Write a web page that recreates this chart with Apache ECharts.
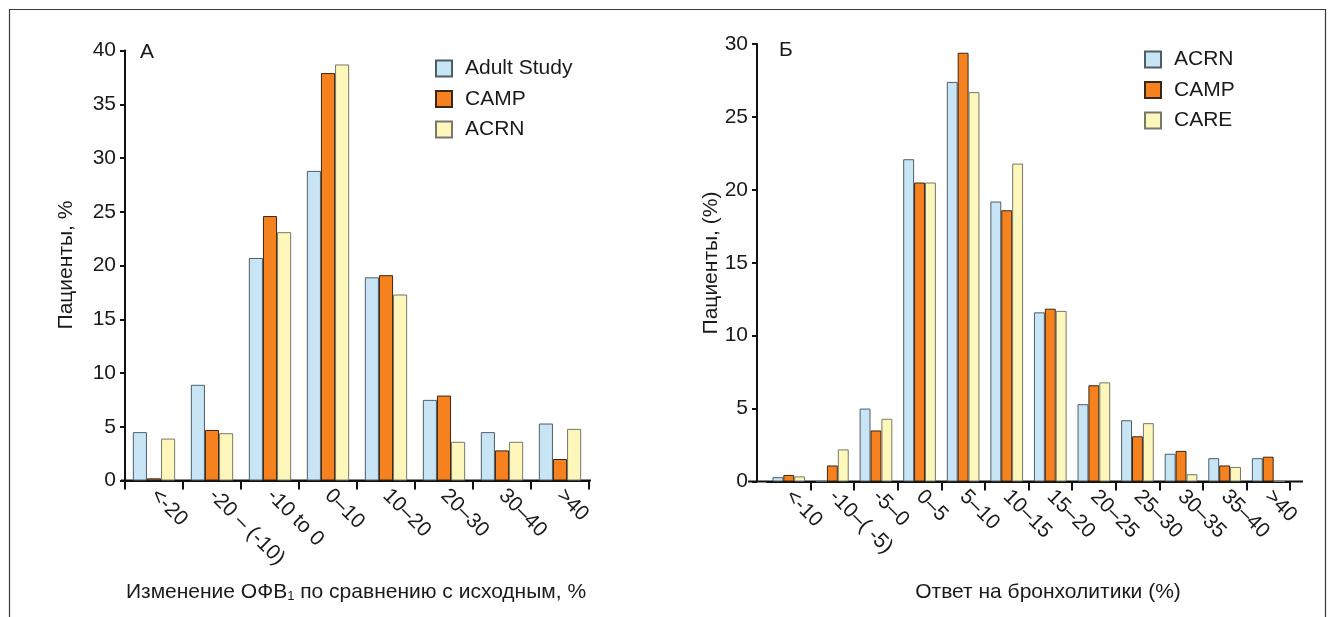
<!DOCTYPE html>
<html><head><meta charset="utf-8">
<script src="https://cdn.jsdelivr.net/npm/echarts@6/dist/echarts.min.js"></script>
<style>html,body{margin:0;padding:0;background:#fff;}#c{width:1333px;height:617px;}</style>
</head><body><div id="c"></div>
<script>
// Panel A
const catsA = ['<-20', '-20 – (-10)', '-10 to 0', '0–10', '10–20', '20–30', '30–40', '>40'];
const adultA = [4.5, 8.9, 20.7, 28.8, 18.9, 7.5, 4.5, 5.3];
const campA = [0.2, 4.7, 24.6, 37.9, 19.1, 7.9, 2.8, 2.0];
const acrnA = [3.9, 4.4, 23.1, 38.7, 17.3, 3.6, 3.6, 4.8];
// Panel B
const catsB = ['<-10', '-10–( -5)', '-5–0', '0–5', '5–10', '10–15', '15–20', '20–25', '25–30', '30–35', '35–40', '>40'];
const acrnB = [0.3, 0, 5.0, 22.1, 27.4, 19.2, 11.6, 5.3, 4.2, 1.9, 1.6, 1.6];
const campB = [0.45, 1.1, 3.5, 20.5, 29.4, 18.6, 11.85, 6.6, 3.1, 2.1, 1.1, 1.7];
const careB = [0.35, 2.2, 4.3, 20.5, 26.7, 21.8, 11.7, 6.8, 4.0, 0.5, 1.0, 0];

const FONT = 'Liberation Sans, Arial, sans-serif';
const TXT = '#1a1a1a';
const FS = 21;
const BLUE = '#c8e5f5', ORANGE = '#f5821f', YELLOW = '#fdf7bc';
const BBLUE = '#4e5e66', BORANGE = '#3a2616', BYELLOW = '#77776a';

const chart = echarts.init(document.getElementById('c'), null, {renderer: 'canvas'});

function xAx(grid, data, hideFirst) {
  return {
    type: 'category', gridIndex: grid, data: data,
    axisLine: {show: true, lineStyle: {color: '#111', width: 2}},
    axisTick: {show: true, length: 9, lineStyle: {color: '#111', width: 2},
      interval: hideFirst ? function (i) { return i !== 0; } : 0},
    axisLabel: {interval: 0, rotate: -45, margin: 12, fontFamily: FONT, fontSize: FS, color: TXT},
    splitLine: {show: false}
  };
}
function yAx(grid, max, offset) {
  return {
    type: 'value', gridIndex: grid, min: 0, max: max, interval: 5, offset: offset,
    axisLine: {show: true, lineStyle: {color: '#111', width: 2}},
    axisTick: {show: true, length: 5, lineStyle: {color: '#111', width: 2}},
    axisLabel: {margin: 9, fontFamily: FONT, fontSize: FS, color: TXT},
    splitLine: {show: false}
  };
}
function bar(name, data, xi, color, border) {
  return {
    name: name, type: 'bar', xAxisIndex: xi, yAxisIndex: xi, data: data,
    barGap: '0%', barCategoryGap: xi === 0 ? '27%' : '25%',
    itemStyle: {color: color, borderColor: border, borderWidth: 1},
    emphasis: {disabled: true}, animation: false
  };
}
const legendCommon = {
  orient: 'vertical', icon: 'rect', itemWidth: 16, itemHeight: 16, itemGap: 9.5,
  selectedMode: false, padding: 0,
  textStyle: {fontFamily: FONT, fontSize: FS, color: TXT, lineHeight: 20, padding: [0, 0, 0, 8]},
  formatter: function (n) { return n.replace('\u2009B', ''); }
};

chart.setOption({
  animation: false,
  backgroundColor: '#fff',
  grid: [
    {left: 125, top: 50.5, width: 464, height: 430},
    {left: 767, top: 44, width: 523, height: 437.5}
  ],
  xAxis: [xAx(0, catsA, false), xAx(1, catsB, true)],
  yAxis: [yAx(0, 40, 0), yAx(1, 30, 10)],
  legend: [
    Object.assign({left: 435, top: 58, data: ['Adult Study', 'CAMP', 'ACRN']}, legendCommon),
    Object.assign({left: 1144, top: 49, data: ['ACRN\u2009B', 'CAMP\u2009B', 'CARE\u2009B']}, legendCommon)
  ],
  series: [
    bar('Adult Study', adultA, 0, BLUE, BBLUE),
    bar('CAMP', campA, 0, ORANGE, BORANGE),
    bar('ACRN', acrnA, 0, YELLOW, BYELLOW),
    bar('ACRN\u2009B', acrnB, 1, BLUE, BBLUE),
    bar('CAMP\u2009B', campB, 1, ORANGE, BORANGE),
    bar('CARE\u2009B', careB, 1, YELLOW, BYELLOW)
  ],
  graphic: [
    {type: 'rect', silent: true, shape: {x: 9.5, y: 9.5, width: 1316, height: 700},
      style: {fill: 'none', stroke: '#3a3a3a', lineWidth: 1.2}},
    {type: 'line', silent: true, shape: {x1: 748, y1: 481.5, x2: 1303, y2: 481.5},
      style: {stroke: '#111', lineWidth: 2}},
    {type: 'line', silent: true, shape: {x1: 121, y1: 480.5, x2: 591, y2: 480.5},
      style: {stroke: '#111', lineWidth: 2}},
    {type: 'text', silent: true, x: 147, y: 52,
      style: {text: 'А', font: FS + 'px ' + FONT, fill: TXT, align: 'center', verticalAlign: 'middle'}},
    {type: 'text', silent: true, x: 786, y: 50,
      style: {text: 'Б', font: FS + 'px ' + FONT, fill: TXT, align: 'center', verticalAlign: 'middle'}},
    {type: 'text', silent: true, x: 66, y: 265, rotation: Math.PI / 2,
      style: {text: 'Пациенты, %', font: FS + 'px ' + FONT, fill: TXT, align: 'center', verticalAlign: 'middle'}},
    {type: 'text', silent: true, x: 711, y: 263, rotation: Math.PI / 2,
      style: {text: 'Пациенты, (%)', font: FS + 'px ' + FONT, fill: TXT, align: 'center', verticalAlign: 'middle'}},
    {type: 'text', silent: true, x: 356, y: 592,
      style: {text: '{a|Изменение ОФВ}{s|1}{a| по сравнению с исходным, %}', fill: TXT,
        align: 'center', verticalAlign: 'middle',
        rich: {a: {fontFamily: FONT, fontSize: FS, fill: TXT, verticalAlign: 'bottom', lineHeight: 22},
               s: {fontFamily: FONT, fontSize: 13, fill: TXT, verticalAlign: 'bottom', lineHeight: 18}}}},
    {type: 'text', silent: true, x: 1048, y: 592,
      style: {text: 'Ответ на бронхолитики (%)', font: FS + 'px ' + FONT, fill: TXT, align: 'center', verticalAlign: 'middle'}}
  ]
});
</script>
</body></html>
